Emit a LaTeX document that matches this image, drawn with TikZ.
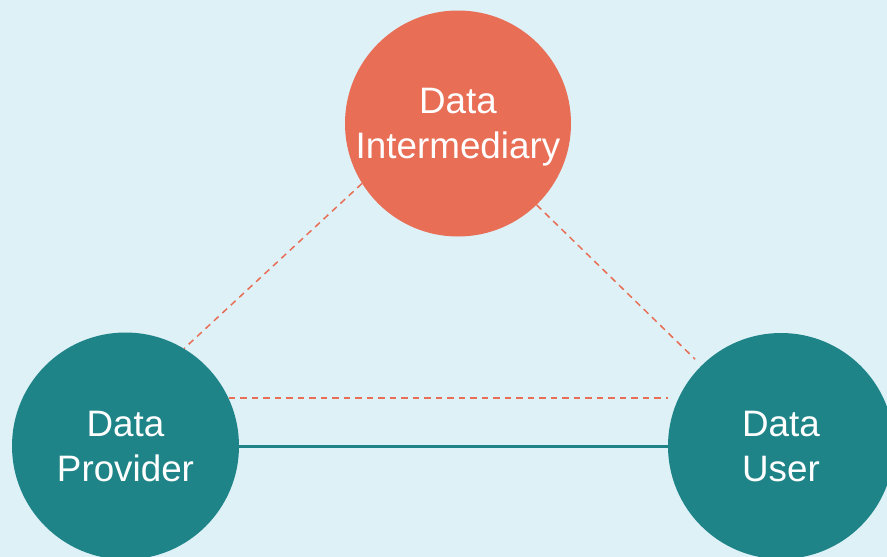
\documentclass[tikz,border=0pt]{standalone}
\usepackage{fontspec}
\setmainfont{Liberation Sans}
\definecolor{bgblue}{RGB}{221,241,247}
\definecolor{coral}{RGB}{233,110,86}
\definecolor{teal}{RGB}{31,132,136}
\tikzset{
  party/.style={circle, minimum size=226pt, inner sep=0pt, text=white,
    align=center, text depth=0pt, font=\fontsize{36.8}{45}\selectfont},
  dashlink/.style={draw=coral, line width=1.5pt, dash pattern=on 6.5pt off 5pt},
  solidlink/.style={draw=teal, line width=3pt}
}
\begin{document}
\begin{tikzpicture}[x=1pt,y=-1pt]
\fill[bgblue] (0,0) rectangle (887,557);
\useasboundingbox (0,0) rectangle (887,557);
\node[party, fill=coral] (I) at (458,123.5) {Data\\Intermediary};
\node[party, fill=teal, minimum size=227pt] (P) at (125.5,446) {Data\\Provider};
\node[party, fill=teal] (U) at (781,446) {Data\\User};
\path (U.center) ++(134.7:122pt) coordinate (ue);
\draw[dashlink] (I.212) -- (P.59.1);
\draw[dashlink] (I.314.8) -- (ue);
\draw[dashlink] (P.25) -- (P.25 -| U.west);
\draw[solidlink] (P.east) -- (U.west);
\end{tikzpicture}
\end{document}
